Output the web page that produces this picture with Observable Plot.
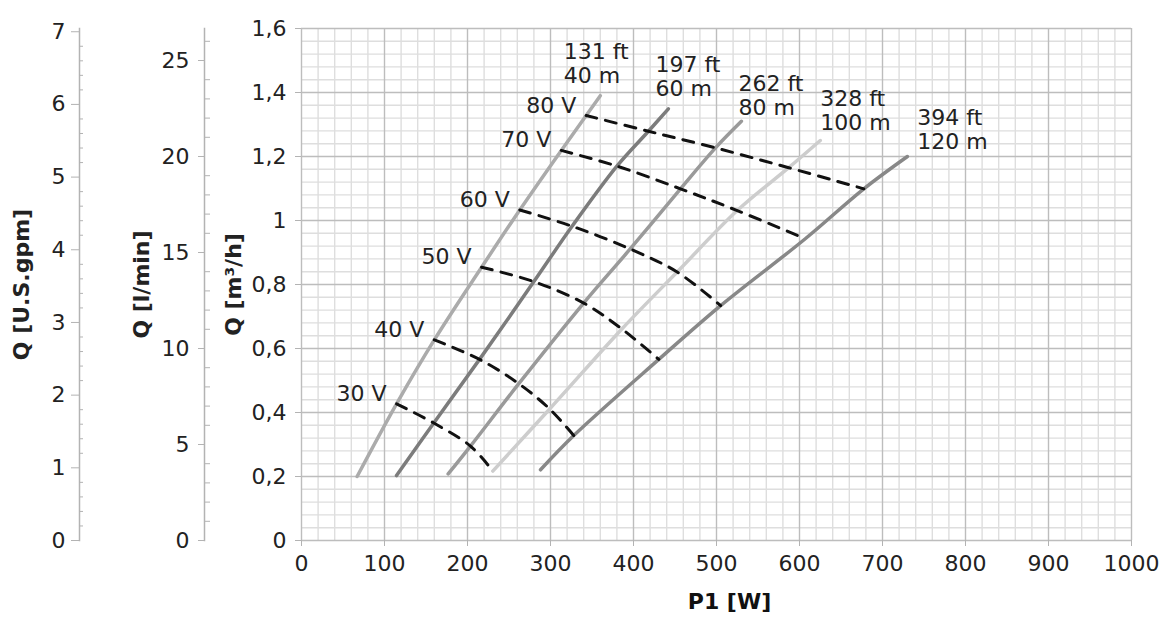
<!DOCTYPE html>
<html>
<head>
<meta charset="utf-8">
<script src="https://cdn.jsdelivr.net/npm/d3@7"></script>
<script src="https://cdn.jsdelivr.net/npm/@observablehq/plot@0.6"></script>
<style>
  body { margin: 0; background: #fff; }
  #chart { position: relative; width: 1165px; height: 621px; }
  #chart svg { position: absolute; left: 0; top: 0; }
  g[aria-label="y-axis label"] text { font-weight: bold; }
</style>
</head>
<body>
<div id="chart"></div>
<script>
// ---- tick labels ----
const powerTicks = [0, 100, 200, 300, 400, 500, 600, 700, 800, 900, 1000];
const flowTicksM3h = [0, 0.2, 0.4, 0.6, 0.8, 1, 1.2, 1.4, 1.6];
const flowTicksLmin = [0, 5, 10, 15, 20, 25];
const flowTicksGpm = [0, 1, 2, 3, 4, 5, 6, 7];

// ---- head curves (P1 [W], Q [m3/h]) ----
const heads = ["40 m", "60 m", "80 m", "100 m", "120 m"];
const headFeet = ["131 ft", "197 ft", "262 ft", "328 ft", "394 ft"];
const headColors = ["#ababab", "#7c7c7c", "#9a9a9a", "#cdcdcd", "#888888"];
const h40P = [67, 114.5, 160, 217, 263, 313, 343, 360];
const h40Q = [0.2, 0.427, 0.627, 0.854, 1.033, 1.219, 1.328, 1.39];
const h60P = [114.5, 159.4, 214.5, 280, 326, 380, 418, 442];
const h60Q = [0.203, 0.367, 0.566, 0.809, 0.982, 1.17, 1.279, 1.349];
const h80P = [176.7, 203.6, 261.8, 340, 396, 456.6, 498.8, 530];
const h80Q = [0.208, 0.295, 0.49, 0.742, 0.911, 1.099, 1.227, 1.31];
const h100P = [230.5, 299, 386, 452.6, 525, 587, 625];
const h100Q = [0.217, 0.411, 0.661, 0.839, 1.031, 1.165, 1.25];
const h120P = [288, 328, 430.5, 505, 607, 677.5, 730];
const h120Q = [0.221, 0.328, 0.566, 0.734, 0.943, 1.099, 1.2];

// head label anchors (P1 [W], Q [m3/h])
const headLabelP = [316, 426.5, 526.5, 625, 742];
const headLabelQ = [1.491, 1.45, 1.391, 1.344, 1.284];

// ---- voltage lines ----
const volts = ["30 V", "40 V", "50 V", "60 V", "70 V", "80 V"];
const v30P = [114.5, 159.4, 203.6, 230.5];
const v30Q = [0.427, 0.367, 0.295, 0.217];
const v40P = [160, 214.5, 261.8, 299, 328];
const v40Q = [0.627, 0.566, 0.49, 0.411, 0.328];
const v50P = [217, 280, 340, 386, 430.5];
const v50Q = [0.854, 0.809, 0.742, 0.661, 0.566];
const v60P = [263, 326, 396, 452.6, 505];
const v60Q = [1.033, 0.982, 0.911, 0.839, 0.734];
const v70P = [313, 380, 456.6, 525, 607];
const v70Q = [1.219, 1.17, 1.099, 1.031, 0.943];
const v80P = [343, 418, 498.8, 587, 677.5];
const v80Q = [1.328, 1.279, 1.227, 1.165, 1.099];

// ---- tables built from the arrays ----
const headP = [h40P, h60P, h80P, h100P, h120P];
const headQ = [h40Q, h60Q, h80Q, h100Q, h120Q];
const headRows = heads.flatMap((h, i) => headP[i].map((p, j) => ({head: h, p, q: headQ[i][j]})));
const headLabelRows = heads.map((h, i) => ({p: headLabelP[i], q: headLabelQ[i], text: headFeet[i] + "\n" + h}));
const voltP = [v30P, v40P, v50P, v60P, v70P, v80P];
const voltQ = [v30Q, v40Q, v50Q, v60Q, v70Q, v80Q];
const voltRows = volts.flatMap((v, i) => voltP[i].map((p, j) => ({volt: v, p, q: voltQ[i][j]})));
const voltLabelRows = volts.map((v, i) => ({volt: v, p: voltP[i][0], q: voltQ[i][0]}));

const M3H_PER_GPM = 0.2271247;
const LMIN_PER_M3H = 1000 / 60;
const qMax = 1.6;

const minorP = d3.range(0, 1001, 20).filter(d => d % 100 !== 0);
const minorQ = d3.range(0, 41, 1).map(d => d * 0.04).filter((d, i) => i % 5 !== 0);
const minorGpm = d3.range(0, 36).map(d => d * 0.2).filter((d, i) => i % 5 !== 0);
const minorLmin = d3.range(0, 27).filter(d => d % 5 !== 0);

const fmtComma = d => String(+d.toFixed(2)).replace(".", ",");
const fmtPlain = d => String(d);
const axisGray = "#b3b3b3";
const baseStyle = {fontFamily: "DejaVu Sans", fontSize: "22px", color: "#222", background: "transparent", overflow: "visible"};
const common = {width: 1165, height: 621, marginTop: 28, marginBottom: 81, style: baseStyle};

// ---- main chart ----
const main = Plot.plot({
  ...common,
  marginLeft: 301,
  marginRight: 34,
  x: {domain: [0, 1000]},
  y: {domain: [0, qMax]},
  color: {domain: heads, range: headColors},
  marks: [
    Plot.ruleX(minorP, {stroke: "#dedede", strokeWidth: 1.4}),
    Plot.ruleY(minorQ, {stroke: "#dedede", strokeWidth: 1.4}),
    Plot.ruleX(powerTicks, {stroke: "#bdbdbd", strokeWidth: 1.4}),
    Plot.ruleY(flowTicksM3h, {stroke: "#bdbdbd", strokeWidth: 1.4}),
    Plot.axisX({ticks: powerTicks, tickFormat: fmtPlain, tickSize: 6, tickPadding: 9, stroke: axisGray, label: null}),
    Plot.axisY({ticks: flowTicksM3h, tickFormat: fmtComma, tickSize: 6, tickPadding: 9, stroke: axisGray,
      label: "Q [m³/h]", labelAnchor: "center", labelOffset: 76, labelArrow: "none"}),
    Plot.line(headRows, {x: "p", y: "q", z: "head", stroke: "head", strokeWidth: 3.5, curve: "catmull-rom"}),
    Plot.line(voltRows, {x: "p", y: "q", z: "volt", stroke: "#111", strokeWidth: 3, strokeDasharray: "11,9", curve: "catmull-rom"}),
    Plot.text(voltLabelRows, {x: "p", y: "q", text: "volt", textAnchor: "end", dx: -10, dy: -10, fill: "#222"}),
    Plot.text(headLabelRows, {x: "p", y: "q", text: "text", textAnchor: "start", lineAnchor: "middle", lineHeight: 1.1, fill: "#222"}),
    Plot.text(["P1 [W]"], {text: d => d, frameAnchor: "bottom", dx: 13, dy: 68, fontWeight: "bold", fill: "#111"})
  ]
});

// ---- l/min axis ----
const lminAxis = Plot.plot({
  ...common,
  marginLeft: 204,
  marginRight: 1165 - 205,
  y: {domain: [0, qMax * LMIN_PER_M3H]},
  marks: [
    Plot.frame({anchor: "left", stroke: axisGray, strokeWidth: 1.5}),
    Plot.axisY({ticks: flowTicksLmin, tickFormat: fmtPlain, tickSize: 6, tickPadding: 9, stroke: axisGray,
      label: "Q [l/min]", labelAnchor: "center", labelOffset: 71, labelArrow: "none"}),
    Plot.axisY({anchor: "left", ticks: minorLmin, tickSize: -6, tickFormat: () => "", stroke: axisGray, label: null})
  ]
});

// ---- U.S. gpm axis ----
const gpmAxis = Plot.plot({
  ...common,
  marginLeft: 79,
  marginRight: 1165 - 80,
  y: {domain: [0, qMax / M3H_PER_GPM]},
  marks: [
    Plot.frame({anchor: "left", stroke: axisGray, strokeWidth: 1.5}),
    Plot.axisY({ticks: flowTicksGpm, tickFormat: fmtPlain, tickSize: 8, tickPadding: 6, stroke: axisGray,
      label: "Q [U.S.gpm]", labelAnchor: "center", labelOffset: 66, labelArrow: "none"}),
    Plot.axisY({anchor: "left", ticks: minorGpm, tickSize: -4, tickFormat: () => "", stroke: axisGray, label: null})
  ]
});

const chart = document.getElementById("chart");
chart.append(gpmAxis, lminAxis, main);
</script>
</body>
</html>
